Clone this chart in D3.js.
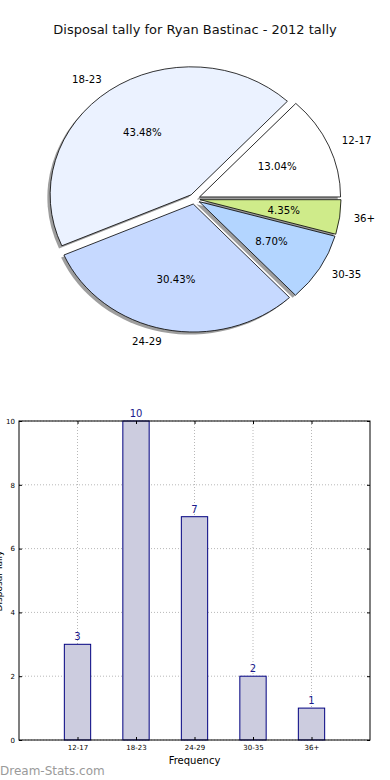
<!DOCTYPE html>
<html><head><meta charset="utf-8">
<script src="https://cdn.jsdelivr.net/npm/d3@7"></script>
<style>body{margin:0;background:#fff}svg{display:block;font-family:"DejaVu Sans",sans-serif}</style>
</head><body>
<svg id="c" width="390" height="780"></svg>
<script>
const categories = ["12-17","18-23","24-29","30-35","36+"];
const counts = [3,10,7,2,1];
const pieColors = ["#ffffff","#ebf2ff","#c6d9ff","#b3d5ff","#cfeb8a"];
const yTicks = [0,2,4,6,8,10];
const title = "Disposal tally for Ryan Bastinac - 2012 tally";

const svg = d3.select("#c");
svg.append("text").attr("x",195).attr("y",34).attr("text-anchor","middle")
  .attr("font-size",13).attr("fill","#111").text(title);

// ---- Pie ----
const cx=194.4, cy=199, rx=141, ry=128, ex=0.04;
const total=d3.sum(counts);
const pie=d3.pie().sort(null).startAngle(Math.PI/2).endAngle(Math.PI/2-2*Math.PI);
const arcs=pie(counts);
const arc=d3.arc().innerRadius(0).outerRadius(ry);
const sx=rx/ry;
function mid(a){ const m=(a.startAngle+a.endAngle)/2; return Math.PI/2-m; }
const pg=svg.append("g");
arcs.forEach((a,i)=>{
  const t=mid(a);
  const ox=cx+ex*rx*Math.cos(t), oy=cy-ex*ry*Math.sin(t);
  pg.append("path").attr("d",arc(a))
    .attr("transform",`translate(${ox-2.8},${oy+2.6}) scale(${sx},1)`)
    .attr("fill","#000").attr("fill-opacity",0.38);
});
arcs.forEach((a,i)=>{
  const t=mid(a);
  const ox=cx+ex*rx*Math.cos(t), oy=cy-ex*ry*Math.sin(t);
  pg.append("path").attr("d",arc(a))
    .attr("transform",`translate(${ox},${oy}) scale(${sx},1)`)
    .attr("fill",pieColors[i]).attr("stroke","#000").attr("stroke-width",0.8)
    .attr("vector-effect","non-scaling-stroke");
  const c=Math.cos(t), s=Math.sin(t);
  pg.append("text").attr("x",ox+1.1*rx*c).attr("y",oy-1.1*ry*s)
    .attr("text-anchor",c>=0?"start":"end").attr("dominant-baseline","central")
    .attr("font-size",10.2).attr("fill","#000").text(categories[i]);
  pg.append("text").attr("x",ox+0.6*rx*c).attr("y",oy-0.6*ry*s)
    .attr("text-anchor","middle").attr("dominant-baseline","central")
    .attr("font-size",10.2).attr("fill","#000")
    .text((counts[i]/total*100).toFixed(2)+"%");
});

// ---- Bar ----
const L=19,R=370,T=421,B=740;
const x=d3.scaleLinear().domain([-1,5]).range([L,R]);
const y=d3.scaleLinear().domain([0,10]).range([B,T]);
const bg=svg.append("g");
const gridColor="#b8b8b8", gridDash="1,2";
categories.forEach((c,i)=>{
  bg.append("line").attr("x1",x(i)).attr("x2",x(i)).attr("y1",T).attr("y2",B)
    .attr("stroke",gridColor).attr("stroke-dasharray",gridDash);
});
yTicks.forEach(v=>{
  bg.append("line").attr("x1",L).attr("x2",R).attr("y1",y(v)).attr("y2",y(v))
    .attr("stroke",gridColor).attr("stroke-dasharray",gridDash);
});
const bw=0.45;
bg.selectAll("rect.bar").data(counts).join("rect")
  .attr("x",(d,i)=>x(i-bw/2)).attr("width",x(bw)-x(0))
  .attr("y",d=>y(d)).attr("height",d=>B-y(d))
  .attr("fill","#ccccdf").attr("stroke","#000080").attr("stroke-width",1);
bg.selectAll("text.val").data(counts).join("text")
  .attr("x",(d,i)=>x(i)).attr("y",d=>y(d)-4).attr("text-anchor","middle")
  .attr("font-size",10).attr("fill","#1a1a8c").text(d=>d);
bg.append("rect").attr("x",L).attr("y",T).attr("width",R-L).attr("height",B-T)
  .attr("fill","none").attr("stroke","#000").attr("stroke-width",1);
const yAx=d3.axisLeft(y).tickValues(yTicks).tickSize(-3).tickPadding(4);
const gy=bg.append("g").attr("transform",`translate(${L},0)`).call(yAx);
gy.select(".domain").remove();
gy.selectAll("text").attr("font-size",7).attr("fill","#000").attr("font-family","DejaVu Sans");
const gy2=bg.append("g").attr("transform",`translate(${R},0)`).call(d3.axisRight(y).tickValues(yTicks).tickSize(-3).tickFormat(""));
gy2.select(".domain").remove();
const xAx=d3.axisBottom(x).tickValues(d3.range(categories.length)).tickFormat(i=>categories[i]).tickSize(-3).tickPadding(5);
const gx=bg.append("g").attr("transform",`translate(0,${B})`).call(xAx);
gx.select(".domain").remove();
gx.selectAll("text").attr("font-size",7).attr("fill","#000").attr("font-family","DejaVu Sans");
const gx2=bg.append("g").attr("transform",`translate(0,${T})`).call(d3.axisTop(x).tickValues(d3.range(categories.length)).tickSize(-3).tickFormat(""));
gx2.select(".domain").remove();
bg.append("text").attr("x",194.5).attr("y",764).attr("text-anchor","middle")
  .attr("font-size",10).attr("fill","#000").text("Frequency");
bg.append("text").attr("transform","translate(2,581) rotate(-90)").attr("text-anchor","middle")
  .attr("font-size",9).attr("fill","#000").text("Disposal Tally");
svg.append("text").attr("x",0).attr("y",775).attr("font-size",12)
  .attr("fill","#9a9a9a").text("Dream-Stats.com");
</script>
</body></html>
